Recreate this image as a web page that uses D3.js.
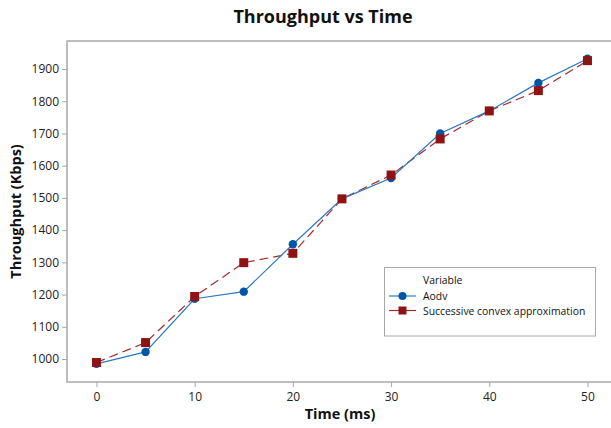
<!DOCTYPE html>
<html><head><meta charset="utf-8">
<script src="https://cdn.jsdelivr.net/npm/d3@7"></script>
<style>body{margin:0;background:#fff;}svg{display:block;}</style>
</head><body>
<svg id="chart" width="611" height="428"></svg>
<script>
const times = [0,5,10,15,20,25,30,35,40,45,50];
const aodv = [985,1022,1187,1209,1356,1497,1562,1700,1770,1857,1932];
const sca  = [989,1051,1194,1299,1328,1497,1571,1683,1770,1833,1926];
const xTicks = [0,10,20,30,40,50];
const yTicks = [1000,1100,1200,1300,1400,1500,1600,1700,1800,1900];
const seriesNames = ["Aodv","Successive convex approximation"];

const svg = d3.select("#chart");
const W = 611, H = 428;
const m = {l:67, t:41, r:W+2, b:382};
const x = d3.scaleLinear().domain([-3, 52.6]).range([m.l, m.r]);
const y = d3.scaleLinear().domain([928.6, 1987]).range([m.b, m.t]);
const font = "'Open Sans', sans-serif";
const blue = "#0055a6", blueLine = "#2f78c4", red = "#8e1414", redLine = "#a52a2a";

svg.append("rect").attr("x", m.l).attr("y", m.t).attr("width", m.r - m.l).attr("height", m.b - m.t)
  .attr("fill", "none").attr("stroke", "#a8a8a8").attr("stroke-width", 1.5);

const xa = svg.append("g").attr("transform", `translate(0,${m.b})`)
  .call(d3.axisBottom(x).tickValues(xTicks).tickSize(5).tickPadding(5).tickFormat(d3.format("d")));
const ya = svg.append("g").attr("transform", `translate(${m.l},0)`)
  .call(d3.axisLeft(y).tickValues(yTicks).tickSize(5).tickPadding(3).tickFormat(d3.format("d")));
[xa, ya].forEach(a => {
  a.select(".domain").remove();
  a.selectAll("line").attr("stroke", "#a8a8a8");
  a.selectAll("text").attr("font-family", font).attr("font-size", 12).attr("fill", "#222");
});

const line = d3.line().x((d,i) => x(times[i])).y(d => y(d));
svg.append("path").datum(sca).attr("d", line).attr("fill", "none")
  .attr("stroke", redLine).attr("stroke-width", 1.2).attr("stroke-dasharray", "9,5");
svg.append("path").datum(aodv).attr("d", line).attr("fill", "none")
  .attr("stroke", blueLine).attr("stroke-width", 1.2);

svg.selectAll(".pa").data(aodv).enter().append("circle")
  .attr("cx", (d,i) => x(times[i])).attr("cy", d => y(d)).attr("r", 4.2).attr("fill", blue);
svg.selectAll(".ps").data(sca).enter().append("rect")
  .attr("x", (d,i) => x(times[i]) - 4.5).attr("y", d => y(d) - 4.5)
  .attr("width", 9).attr("height", 9).attr("fill", red);

svg.append("text").attr("x", 323).attr("y", 23).attr("text-anchor", "middle")
  .attr("font-family", font).attr("font-weight", "bold").attr("font-size", 18).attr("fill", "#111")
  .text("Throughput vs Time");
svg.append("text").attr("x", 340).attr("y", 419).attr("text-anchor", "middle")
  .attr("font-family", font).attr("font-weight", "bold").attr("font-size", 14.5).attr("fill", "#111")
  .text("Time (ms)");
svg.append("text").attr("transform", `translate(21,${(m.t + m.b)/2}) rotate(-90)`).attr("text-anchor", "middle")
  .attr("font-family", font).attr("font-weight", "bold").attr("font-size", 14.5).attr("fill", "#111")
  .text("Throughput (Kbps)");

// legend
const lg = svg.append("g");
lg.append("rect").attr("x", 384.5).attr("y", 267.5).attr("width", 211).attr("height", 68.5)
  .attr("fill", "#fff").attr("stroke", "#a8a8a8").attr("stroke-width", 1);
lg.append("text").attr("x", 423).attr("y", 284).attr("font-family", font).attr("font-size", 10.4).attr("fill", "#111").text("Variable");
const rows = [296, 310.5];
rows.forEach((ry, i) => {
  lg.append("line").attr("x1", 389).attr("x2", 416).attr("y1", ry).attr("y2", ry)
    .attr("stroke", i ? redLine : blueLine).attr("stroke-width", 1.2);
  if (i) lg.append("rect").attr("x", 398.5).attr("y", ry - 4).attr("width", 8).attr("height", 8).attr("fill", red);
  else lg.append("circle").attr("cx", 402.5).attr("cy", ry).attr("r", 4).attr("fill", blue);
  lg.append("text").attr("x", 423).attr("y", ry + 4).attr("font-family", font).attr("font-size", 10.4)
    .attr("fill", "#111").text(seriesNames[i]);
});
</script>
</body></html>
